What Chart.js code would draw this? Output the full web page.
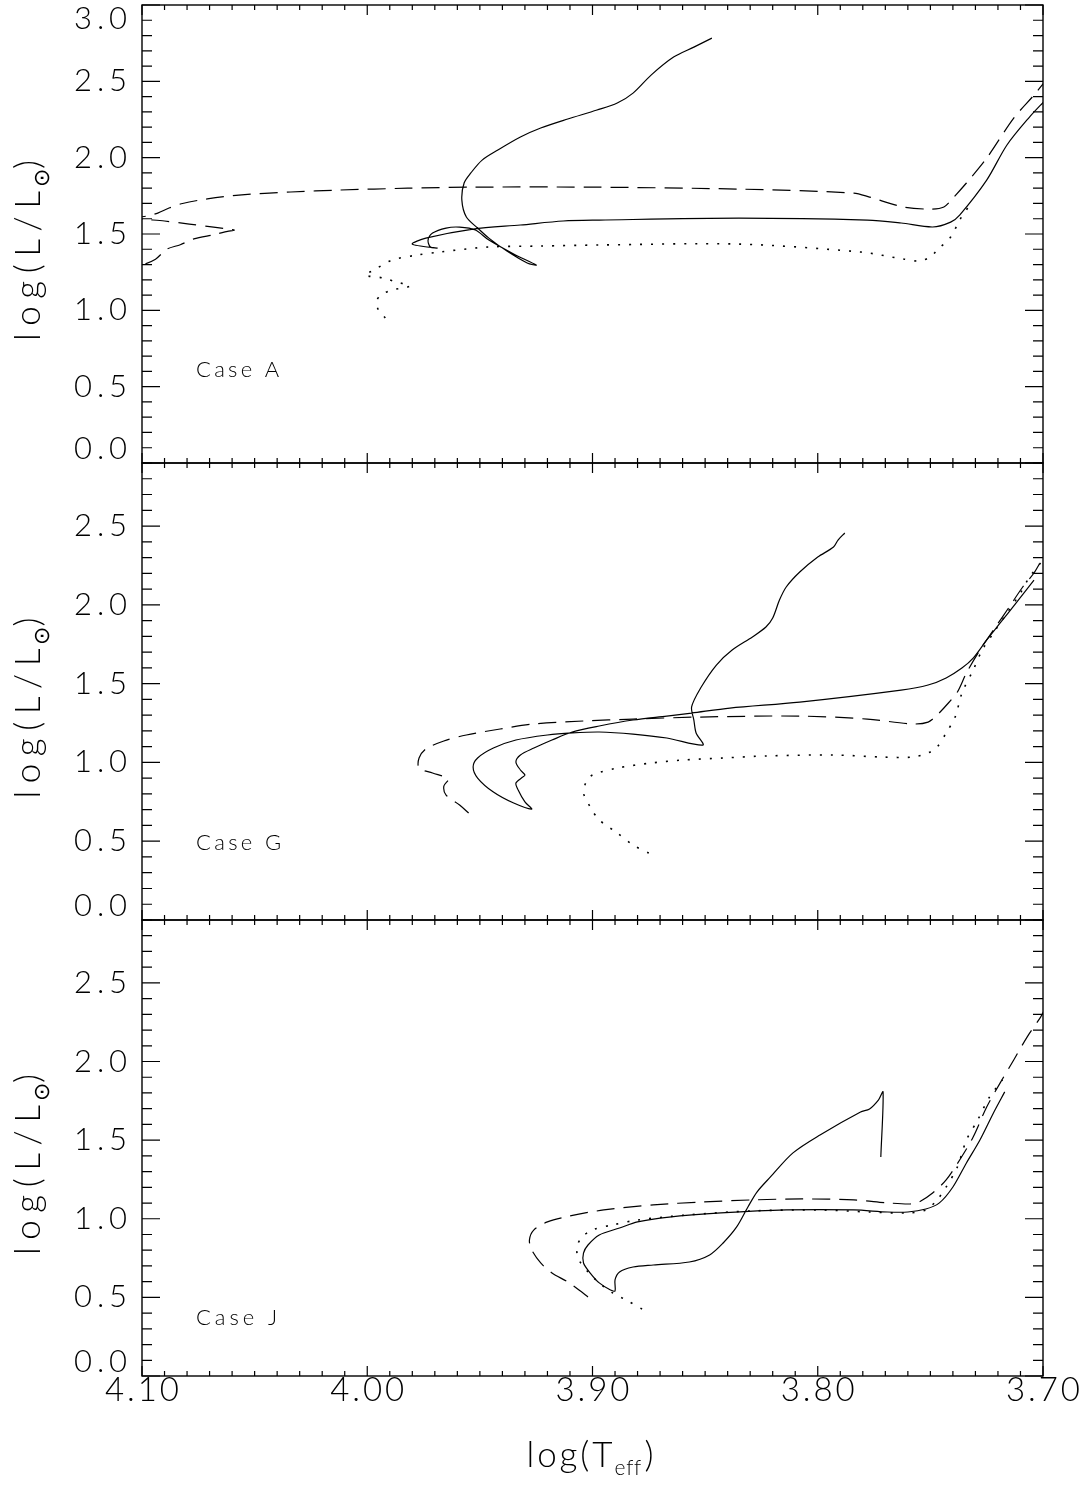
<!DOCTYPE html>
<html>
<head>
<meta charset="utf-8">
<script src="https://cdn.jsdelivr.net/npm/chart.js@4.4.0/dist/chart.umd.min.js"></script>
<style>
html, body { margin: 0; padding: 0; background: #fff; }
#wrap { position: relative; width: 1092px; height: 1494px; }
#wrap canvas { position: absolute; left: 0; top: 0; }
</style>
</head>
<body>
<div id="wrap">
<canvas id="panelA" width="1092" height="1494"></canvas>
<canvas id="panelG" width="1092" height="1494"></canvas>
<canvas id="panelJ" width="1092" height="1494"></canvas>
</div>
<script>
// tracks as [log Teff, log L/Lsun]

// Case A
const caseA_solid = [
    [3.847,2.783],[3.855,2.724],[3.864,2.659],[3.874,2.541],[3.882,2.423],[3.889,2.358],
    [3.898,2.312],[3.911,2.253],[3.923,2.194],[3.932,2.135],[3.942,2.050],[3.949,1.984],
    [3.954,1.900],[3.957,1.834],[3.958,1.722],[3.956,1.611],[3.951,1.539],[3.946,1.473],
    [3.938,1.388],[3.929,1.310],[3.925,1.297],[3.935,1.369],[3.946,1.460],[3.952,1.526],
    [3.959,1.545],[3.965,1.539],[3.971,1.506],[3.973,1.460],[3.972,1.415],[3.969,1.408],
    [3.980,1.434],[3.974,1.473],[3.953,1.532],[3.932,1.559],[3.913,1.585],[3.897,1.591],
    [3.835,1.604],[3.778,1.591],[3.763,1.572],[3.749,1.546],[3.741,1.578],[3.737,1.624],
    [3.725,1.853],[3.716,2.083],[3.706,2.266],[3.699,2.377]
];
const caseA_dashed = [
    [4.110,1.260],[4.100,1.297],[4.094,1.335],[4.089,1.400],[4.083,1.430],[4.077,1.468],
    [4.068,1.496],[4.062,1.517],[4.059,1.526],[4.063,1.535],[4.070,1.548],[4.079,1.565],
    [4.090,1.585],[4.100,1.598],[4.103,1.605],[4.097,1.620],[4.093,1.637],[4.088,1.670],
    [4.082,1.700],[4.071,1.730],[4.057,1.755],[4.034,1.775],[4.012,1.788],[3.982,1.800],
    [3.953,1.807],[3.901,1.807],[3.835,1.794],[3.784,1.768],[3.777,1.742],[3.762,1.677],
    [3.750,1.663],[3.744,1.677],[3.740,1.735],[3.734,1.834],[3.725,1.997],[3.713,2.259],
    [3.704,2.410],[3.698,2.520]
];
const caseA_dotted = [
    [3.992,0.950],[3.995,1.002],[3.996,1.054],[3.994,1.100],[3.989,1.133],[3.981,1.159],
    [3.987,1.185],[3.993,1.212],[4.001,1.231],[3.997,1.264],[3.989,1.329],[3.978,1.362],
    [3.968,1.382],[3.946,1.415],[3.923,1.421],[3.897,1.428],[3.835,1.434],[3.781,1.382],
    [3.762,1.336],[3.755,1.323],[3.750,1.349],[3.747,1.395],[3.741,1.480],[3.737,1.591],
    [3.733,1.680]
];

// Case G
const caseG_solid = [
    [3.788,2.456],[3.791,2.411],[3.793,2.367],[3.800,2.303],[3.808,2.208],[3.814,2.113],
    [3.817,2.030],[3.820,1.916],[3.823,1.859],[3.829,1.796],[3.838,1.713],[3.845,1.618],
    [3.852,1.472],[3.856,1.352],[3.855,1.269],[3.854,1.187],[3.851,1.110],[3.867,1.155],
    [3.882,1.180],[3.897,1.193],[3.909,1.187],[3.920,1.174],[3.934,1.142],[3.944,1.091],
    [3.951,1.028],[3.953,0.971],[3.951,0.901],[3.944,0.812],[3.935,0.742],[3.927,0.704],
    [3.930,0.749],[3.933,0.825],[3.934,0.869],[3.931,0.907],[3.930,0.920],[3.932,0.952],
    [3.934,1.003],[3.932,1.047],[3.926,1.091],[3.918,1.142],[3.909,1.193],[3.897,1.231],
    [3.882,1.269],[3.867,1.294],[3.856,1.313],[3.839,1.345],[3.808,1.383],[3.763,1.459],
    [3.751,1.491],[3.743,1.536],[3.736,1.599],[3.731,1.662],[3.725,1.777],[3.719,1.885],
    [3.712,2.011],[3.704,2.157]
];
const caseG_dashed = [
    [3.955,0.679],[3.959,0.730],[3.965,0.793],[3.966,0.850],[3.964,0.895],[3.971,0.933],
    [3.977,0.964],[3.977,1.028],[3.974,1.085],[3.966,1.136],[3.956,1.174],[3.941,1.212],
    [3.926,1.244],[3.904,1.263],[3.882,1.275],[3.852,1.288],[3.808,1.294],[3.778,1.275],
    [3.758,1.244],[3.751,1.256],[3.747,1.301],[3.742,1.377],[3.738,1.447],[3.734,1.567],
    [3.728,1.713],[3.722,1.840],[3.715,1.986],[3.709,2.113],[3.704,2.202],[3.700,2.297],
    [3.698,2.330]
];
const caseG_dotted = [
    [3.875,0.425],[3.882,0.476],[3.889,0.552],[3.897,0.635],[3.901,0.717],[3.904,0.806],
    [3.903,0.869],[3.900,0.920],[3.889,0.964],[3.874,0.996],[3.860,1.015],[3.842,1.028],
    [3.823,1.041],[3.793,1.047],[3.771,1.034],[3.758,1.034],[3.751,1.060],[3.747,1.098],
    [3.743,1.187],[3.739,1.288],[3.736,1.440],[3.731,1.586],[3.727,1.713],[3.722,1.821],
    [3.716,1.948],[3.710,2.075],[3.706,2.176],[3.700,2.284]
];

// Case J
const caseJ_solid = [
    [3.772,1.393],[3.771,1.807],[3.773,1.756],[3.777,1.698],[3.781,1.679],[3.799,1.533],
    [3.811,1.419],[3.821,1.266],[3.827,1.170],[3.831,1.075],[3.836,0.948],[3.842,0.846],
    [3.848,0.770],[3.857,0.725],[3.873,0.706],[3.882,0.693],[3.888,0.662],[3.890,0.611],
    [3.890,0.541],[3.892,0.547],[3.897,0.592],[3.901,0.655],[3.904,0.719],[3.904,0.782],
    [3.902,0.833],[3.897,0.897],[3.888,0.941],[3.880,0.980],[3.866,1.011],[3.843,1.037],
    [3.814,1.056],[3.784,1.056],[3.769,1.043],[3.760,1.043],[3.752,1.062],[3.746,1.101],
    [3.740,1.202],[3.734,1.355],[3.728,1.501],[3.722,1.673],[3.717,1.807]
];
const caseJ_dashed = [
    [3.902,0.503],[3.906,0.547],[3.911,0.598],[3.918,0.655],[3.923,0.719],[3.927,0.802],
    [3.928,0.865],[3.926,0.929],[3.920,0.980],[3.910,1.018],[3.895,1.056],[3.873,1.088],
    [3.851,1.107],[3.829,1.120],[3.807,1.126],[3.784,1.120],[3.769,1.101],[3.759,1.094],
    [3.755,1.107],[3.749,1.164],[3.743,1.247],[3.737,1.374],[3.731,1.520],[3.725,1.711],
    [3.719,1.864],[3.713,2.010],[3.707,2.157],[3.701,2.284],[3.699,2.340]
];
const caseJ_dotted = [
    [3.878,0.426],[3.885,0.483],[3.891,0.528],[3.897,0.592],[3.902,0.662],[3.906,0.738],
    [3.907,0.814],[3.905,0.878],[3.900,0.929],[3.891,0.961],[3.880,0.992],[3.858,1.024],
    [3.829,1.050],[3.799,1.056],[3.777,1.043],[3.760,1.037],[3.752,1.056],[3.747,1.120],
    [3.743,1.202],[3.738,1.330],[3.734,1.501],[3.729,1.628],[3.724,1.768],[3.718,1.883]
];

// axis settings
const xTickLabels = ['4.10', '4.00', '3.90', '3.80', '3.70'];
const xMin = 3.70, xMax = 4.10;

const FONT = "Lato, 'Open Sans', 'DejaVu Sans', sans-serif";

// text drawn with spacing stretched to a given width (IDL vector font is wide)
function spacedText(ctx, text, x0, y, size, width) {
    ctx.font = '300 ' + size + 'px ' + FONT;
    ctx.letterSpacing = '0px';
    const w = ctx.measureText(text).width;
    const ls = text.length > 1 ? (width - w) / (text.length - 1) : 0;
    ctx.letterSpacing = ls + 'px';
    ctx.textAlign = 'left';
    ctx.fillText(text, x0, y);
    ctx.letterSpacing = '0px';
}

function drawYTitle(ctx, cx, cy) {
    ctx.save();
    ctx.translate(cx, cy);
    ctx.rotate(-Math.PI / 2);
    ctx.textBaseline = 'alphabetic';
    // total length about 213 px
    const start = -107;
    spacedText(ctx, 'log(L/L', start, 0, 35, 150);
    spacedText(ctx, '\u2299', start + 154, 9, 22, 14);
    spacedText(ctx, ')', start + 172, 0, 35, 10);
    ctx.restore();
}

function makeFrame(cfg) {
    return {
        id: 'frame' + cfg.name,
        afterDraw(chart) {
            const ctx = chart.ctx;
            const a = chart.chartArea;
            const xs = chart.scales.x, ys = chart.scales.y;
            ctx.save();
            ctx.strokeStyle = '#000';
            ctx.fillStyle = '#000';
            ctx.lineWidth = 1.4;
            ctx.strokeRect(a.left, a.top, a.right - a.left, a.bottom - a.top);

            ctx.lineWidth = 1.2;
            ctx.beginPath();
            // x ticks, inward on top and bottom
            for (let i = 370; i <= 410; i++) {
                const px = xs.getPixelForValue(i / 100);
                const len = i % 10 === 0 ? 10 : 5;
                ctx.moveTo(px, a.bottom); ctx.lineTo(px, a.bottom - len);
                ctx.moveTo(px, a.top); ctx.lineTo(px, a.top + len);
            }
            // y ticks, inward on left and right
            const nY = Math.round(cfg.yMax * 10);
            for (let i = 0; i <= nY; i++) {
                const py = ys.getPixelForValue(i / 10);
                const len = i % 5 === 0 ? 18 : 10;
                ctx.moveTo(a.left, py); ctx.lineTo(a.left + len, py);
                ctx.moveTo(a.right, py); ctx.lineTo(a.right - len, py);
            }
            ctx.stroke();

            // y tick labels
            ctx.textBaseline = 'middle';
            for (let i = 0; i <= nY; i += 5) {
                let py = ys.getPixelForValue(i / 10);
                py = Math.max(a.top + 14, Math.min(a.bottom - 14, py));
                spacedText(ctx, (i / 10).toFixed(1), 74, py, 31, 53);
            }

            // y title
            drawYTitle(ctx, 40, (a.top + a.bottom) / 2);

            // case label
            ctx.textBaseline = 'middle';
            spacedText(ctx, cfg.label, xs.getPixelForValue(cfg.labelPos[0]),
                ys.getPixelForValue(cfg.labelPos[1]), 22, cfg.labelWidth);

            if (cfg.xLabels) {
                ctx.textBaseline = 'middle';
                xTickLabels.forEach(t => {
                    const px = xs.getPixelForValue(parseFloat(t));
                    spacedText(ctx, t, px - 37, a.bottom + 14, 33, 74);
                });
                // x title log(T_eff)
                ctx.textBaseline = 'alphabetic';
                const cx = (a.left + a.right) / 2;
                const y0 = a.bottom + 91;
                spacedText(ctx, 'log(T', cx - 66, y0, 35, 86);
                spacedText(ctx, 'eff', cx + 22, y0 + 8, 21, 26);
                spacedText(ctx, ')', cx + 52, y0, 35, 10);
            }
            ctx.restore();
        }
    };
}

function toXY(arr) {
    return arr.map(p => ({ x: p[0], y: p[1] }));
}

function track(data, style) {
    const ds = {
        data: toXY(data),
        borderColor: '#000',
        borderWidth: 1.2,
        pointRadius: 0,
        fill: false,
        tension: 0.3,
        borderDash: []
    };
    if (style === 'dashed') ds.borderDash = [18, 9];
    if (style === 'dotted') { ds.borderDash = [2, 9]; ds.borderWidth = 1.6; }
    return ds;
}

function load_panel({ id, top, bottom, yMax, sets, label, labelPos, labelWidth, xLabels }) {
    const cfg = { name: id, yMax, label, labelPos, labelWidth, xLabels };
    new Chart(document.getElementById(id), {
        type: 'line',
        data: {
            datasets: [
                track(sets[1], 'dashed'),
                track(sets[2], 'dotted'),
                track(sets[0], 'solid')
            ]
        },
        options: {
            responsive: false,
            animation: false,
            devicePixelRatio: 1,
            layout: { padding: { left: 142, right: 49, top: top, bottom: 1494 - bottom } },
            scales: {
                x: { type: 'linear', min: xMin, max: xMax, reverse: true, display: false },
                y: { type: 'linear', min: 0, max: yMax, display: false }
            },
            plugins: { legend: { display: false }, tooltip: { enabled: false } }
        },
        plugins: [makeFrame(cfg)]
    });
}

load_panel({ id: 'panelA', top: 5, bottom: 463, yMax: 3.0,
    sets: [caseA_solid, caseA_dashed, caseA_dotted],
    label: 'Case A', labelPos: [4.076, 0.61], labelWidth: 83, xLabels: false });
load_panel({ id: 'panelG', top: 463, bottom: 920, yMax: 2.9,
    sets: [caseG_solid, caseG_dashed, caseG_dotted],
    label: 'Case G', labelPos: [4.076, 0.49], labelWidth: 85, xLabels: false });
load_panel({ id: 'panelJ', top: 920, bottom: 1376, yMax: 2.9,
    sets: [caseJ_solid, caseJ_dashed, caseJ_dotted],
    label: 'Case J', labelPos: [4.076, 0.37], labelWidth: 81, xLabels: true });
</script>
</body>
</html>
